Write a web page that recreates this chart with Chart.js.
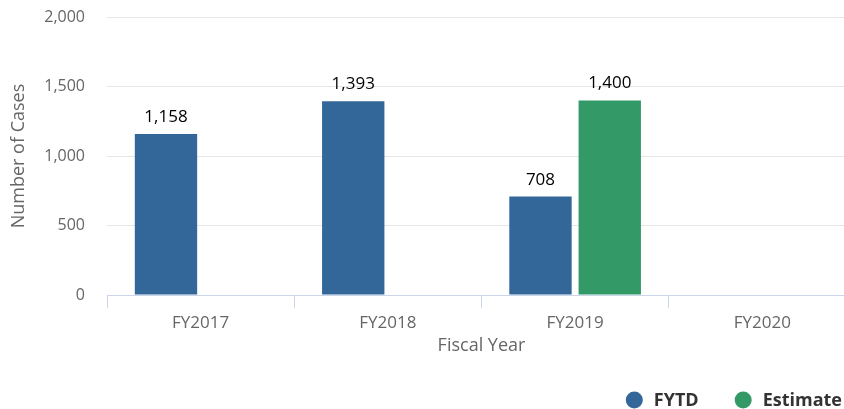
<!DOCTYPE html>
<html>
<head>
<meta charset="utf-8">
<script src="https://cdn.jsdelivr.net/npm/chart.js@4"></script>
<style>
  html, body { margin: 0; padding: 0; background: #fff; overflow: hidden; }
  /* the last category runs a little past the visible edge */
  #wrap { width: 856px; height: 409px; }
</style>
</head>
<body>
<div id="wrap"><canvas id="myChart"></canvas></div>
<script>
const years = ["FY2017", "FY2018", "FY2019", "FY2020"];
const fytd = [1158, 1393, 708, null];
const estimate = [null, null, 1400, null];
const yTicks = [0, 500, 1000, 1500, 2000];

const fmt = (v) => v.toLocaleString("en-US");

// value above each bar
const barLabels = {
  id: "barLabels",
  afterDatasetsDraw(chart) {
    const ctx = chart.ctx;
    ctx.save();
    ctx.font = "17px 'Open Sans'";
    ctx.fillStyle = "#000";
    ctx.textAlign = "center";
    ctx.textBaseline = "alphabetic";
    chart.data.datasets.forEach((ds, i) => {
      chart.getDatasetMeta(i).data.forEach((bar, j) => {
        if (ds.data[j] == null) return;
        ctx.fillText(fmt(ds.data[j]), bar.x, bar.y - 12);
      });
    });
    ctx.restore();
  },
};

// legend in the bottom right corner, laid out right to left
const cornerLegend = {
  id: "cornerLegend",
  afterDraw(chart) {
    const ctx = chart.ctx;
    const y = 400;
    const r = 8.5;
    let right = 842;
    ctx.save();
    ctx.font = "bold 18px 'Open Sans'";
    ctx.textBaseline = "middle";
    ctx.textAlign = "left";
    const items = chart.data.datasets.slice().reverse();
    items.forEach((ds) => {
      const w = ctx.measureText(ds.label).width;
      const textX = right - w;
      ctx.fillStyle = "#333";
      ctx.fillText(ds.label, textX, y + 1);
      ctx.beginPath();
      ctx.arc(textX - 11 - r, y, r, 0, Math.PI * 2);
      ctx.fillStyle = ds.backgroundColor;
      ctx.fill();
      right = textX - 11 - 2 * r - 36;
    });
    ctx.restore();
  },
};

initChart();

function initChart() {
  const ctx = document.getElementById("myChart").getContext("2d");
  window.chart = new Chart(ctx, {
    type: "bar",
    data: {
      labels: years,
      datasets: [
        { label: "FYTD", backgroundColor: "#336699", data: fytd },
        { label: "Estimate", backgroundColor: "#339966", data: estimate },
      ],
    },
    options: {
      responsive: true,
      maintainAspectRatio: false,
      animation: false,
      categoryPercentage: 0.74,
      barPercentage: 0.9,
      layout: { padding: { top: 17, right: 0, left: 0, bottom: 52 } },
      scales: {
        x: {
          grid: {
            offset: true,
            drawOnChartArea: false,
            color: "#ccd6eb",
            tickLength: 13,
          },
          border: { color: "#ccd6eb" },
          ticks: {
            color: "#666",
            font: { family: "'Open Sans'", style: "condensed", size: 17 },
            padding: 5,
          },
          title: {
            display: true,
            text: "Fiscal Year",
            color: "#666",
            font: { family: "Open Sans", size: 18 },
            padding: { top: -3, bottom: 0 },
          },
        },
        y: {
          min: 0,
          max: 2000,
          afterBuildTicks: (axis) => {
            axis.ticks = yTicks.map((v) => ({ value: v }));
          },
          afterFit: (axis) => {
            axis.width = 107;
            axis.paddingTop = 0;
            axis.paddingBottom = 0;
          },
          grid: { color: "#e6e6e6", drawTicks: false },
          border: { display: false },
          ticks: {
            color: "#666",
            font: { family: "Open Sans", size: 16 },
            padding: 22,
            callback: (v) => fmt(v),
          },
          title: {
            display: true,
            text: "Number of Cases",
            color: "#666",
            font: { family: "Open Sans", size: 18 },
            padding: { top: 8, bottom: 11 },
          },
        },
      },
      plugins: {
        legend: { display: false },
        tooltip: { enabled: false },
      },
    },
    plugins: [barLabels, cornerLegend],
  });
}
</script>
</body>
</html>
